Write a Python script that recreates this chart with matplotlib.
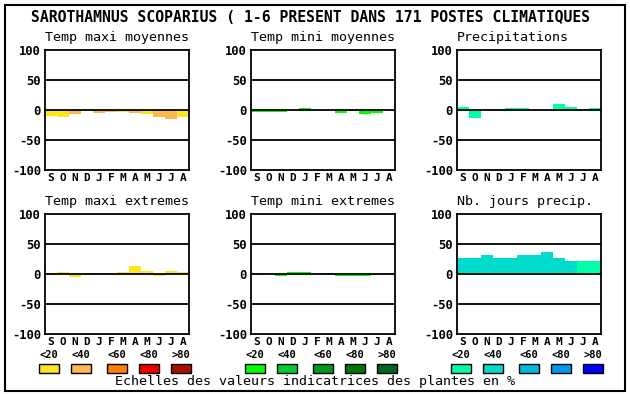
import matplotlib.pyplot as plt
from matplotlib.patches import Rectangle

months = ['S', 'O', 'N', 'D', 'J', 'F', 'M', 'A', 'M', 'J', 'J', 'A']

title = "SAROTHAMNUS SCOPARIUS ( 1-6 PRESENT DANS 171 POSTES CLIMATIQUES"

# colour scales (<20 <40 <60 <80 >80)
warm = ['#fce51c', '#ffb84f', '#ff7f00', '#ee0000', '#aa1100']
green = ['#00ff00', '#00cc33', '#009922', '#007700', '#006622']
blue = ['#00ffaa', '#00dccc', '#00bbdd', '#0099ee', '#0000ff']
scale_labels = ['<20', '<40', '<60', '<80', '>80']

tmax_moy = [-10, -12, -7, 0, -5, -3, -3, -5, -7, -12, -15, -12]
tmax_moy_cls = [0, 0, 1, 1, 1, 1, 0, 1, 0, 1, 1, 0]

tmin_moy = [-3, -3, -3, 0, 4, 0, 0, -5, 2, -7, -5, 0]
tmin_moy_cls = [0] * 12

precip = [5, -13, 0, 2, 3, 3, 0, 0, 10, 5, 2, 3]
precip_cls = [0] * 12

tmax_ext = [1, 3, -5, -2, -2, -2, 3, 13, 5, -3, 5, 3]
tmax_ext_cls = [0] * 12

tmin_ext = [2, 0, -4, 4, 4, 0, 2, -4, -4, -4, 0, -2]
tmin_ext_cls = [0] * 12

jours_precip = [27, 26, 31, 26, 27, 32, 31, 37, 27, 21, 22, 22]
jours_precip_cls = [1, 1, 1, 1, 1, 1, 1, 1, 1, 1, 0, 0]

panels = [
    ("Temp maxi moyennes", tmax_moy, tmax_moy_cls, warm, 45, 50),
    ("Temp mini moyennes", tmin_moy, tmin_moy_cls, green, 251, 50),
    ("Precipitations", precip, precip_cls, blue, 457, 50),
    ("Temp maxi extremes", tmax_ext, tmax_ext_cls, warm, 45, 214),
    ("Temp mini extremes", tmin_ext, tmin_ext_cls, green, 251, 214),
    ("Nb. jours precip.", jours_precip, jours_precip_cls, blue, 457, 214),
]

W, H = 630, 394
mono = 'DejaVu Sans Mono'

fig = plt.figure(figsize=(W / 100, H / 100), dpi=100)
fig.patches.append(Rectangle((4.5 / W, 1 - 390.5 / H), 620 / W, 386 / H,
                             transform=fig.transFigure, fill=False,
                             edgecolor='black', linewidth=1.5))

fig.text(31 / W, 1 - 18 / H, title, family=mono, fontweight='bold',
         fontsize=10.6, va='center', ha='left')

for name, vals, cls, pal, px, py in panels:
    ax = fig.add_axes([px / W, 1 - (py + 120) / H, 144 / W, 120 / H])
    ax.bar(range(12), vals, width=1.0, color=[pal[c] for c in cls],
           linewidth=0, zorder=2)
    for y in (50, 0, -50):
        ax.axhline(y, color='black', linewidth=1.3, zorder=3)
    ax.set_xlim(-0.5, 11.5)
    ax.set_ylim(-100, 100)
    ax.set_yticks([100, 50, 0, -50, -100])
    ax.set_yticklabels(['100', '50', '0', '-50', '-100'], family=mono,
                       fontweight='bold', fontsize=8.7)
    ax.set_xticks(range(12))
    ax.set_xticklabels(months, family=mono, fontweight='bold', fontsize=8)
    ax.tick_params(axis='y', length=0, pad=3)
    ax.tick_params(axis='x', length=0, pad=2)
    for s in ax.spines.values():
        s.set_linewidth(1.3)
    fig.text(px / W, 1 - (py - 12) / H, name, family=mono, fontsize=9.6,
             va='center', ha='left')

# legend scales
groups = [(warm, [39, 71, 107, 139, 171]),
          (green, [245, 277, 313, 345, 377]),
          (blue, [451, 483, 519, 551, 583])]
for pal, xs in groups:
    for col, lab, x in zip(pal, scale_labels, xs):
        fig.patches.append(Rectangle((x / W, 1 - 373 / H), 20 / W, 9 / H,
                                     transform=fig.transFigure,
                                     facecolor=col, edgecolor='black',
                                     linewidth=1))
        fig.text((x + 10) / W, 1 - 355 / H, lab, family=mono,
                 fontweight='bold', fontsize=7.5, ha='center', va='center')

fig.text(315 / W, 1 - 382 / H,
         "Echelles des valeurs indicatrices des plantes en %",
         family=mono, fontsize=9.6, ha='center', va='center')

fig.savefig('out.png', dpi=100)
